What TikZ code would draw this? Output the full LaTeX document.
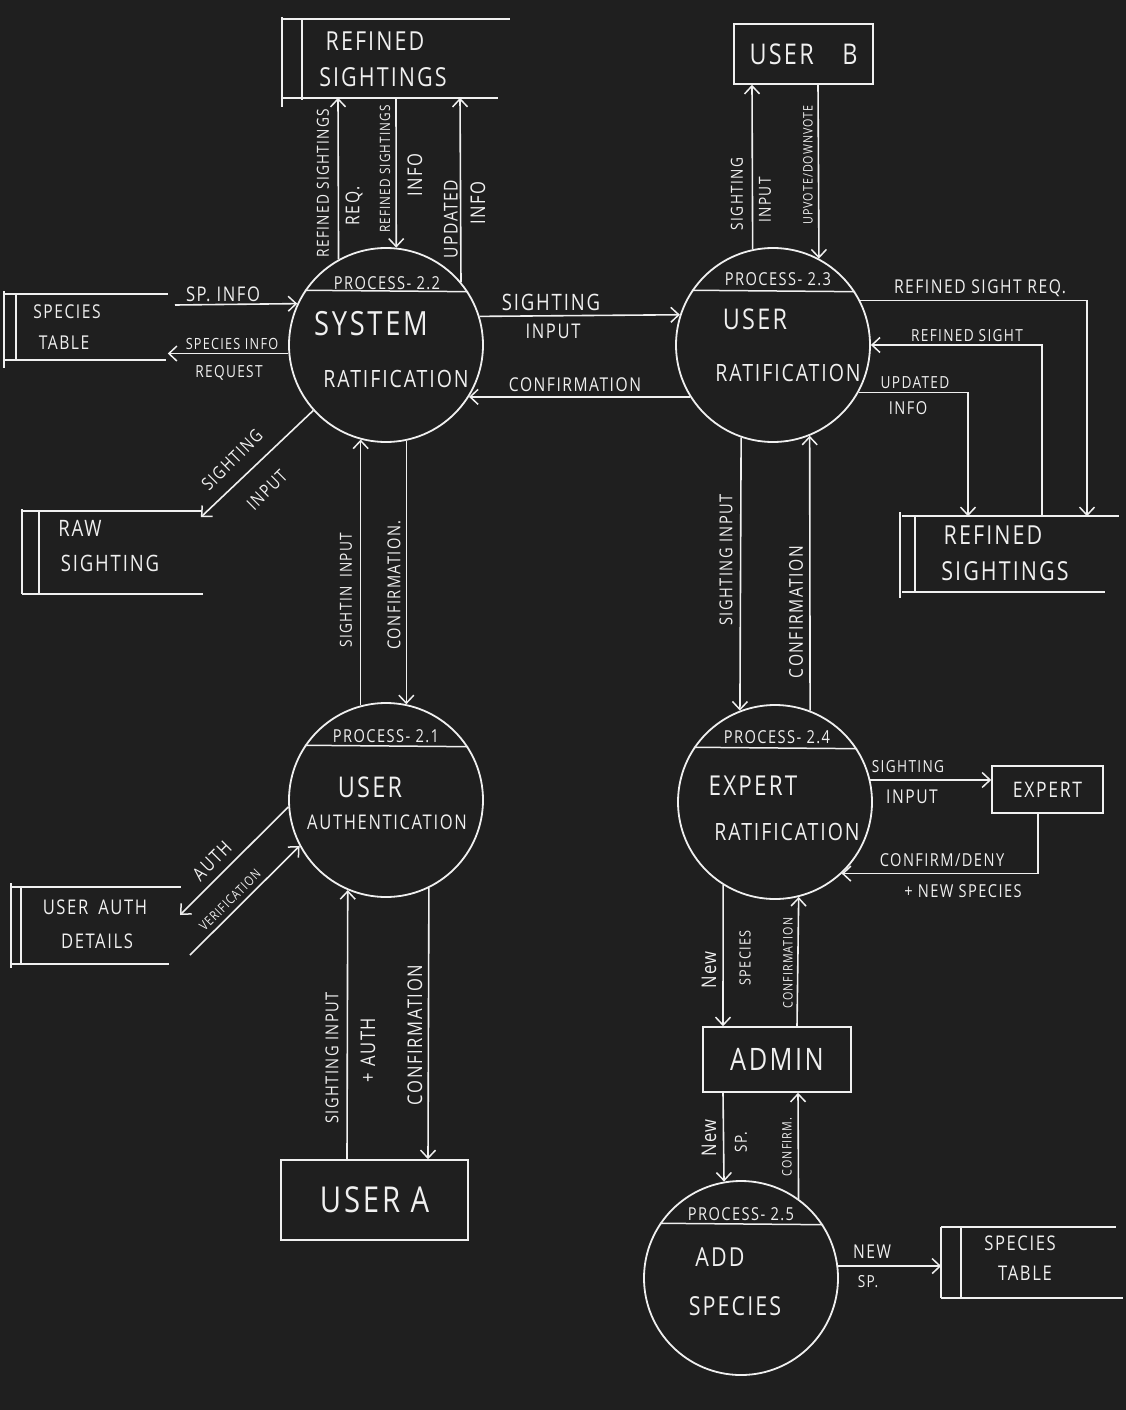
\documentclass[tikz,border=0pt]{standalone}
\usepackage{fontspec}
\setmainfont{Open Sans}
\newfontfamily\hand{Open Sans}[LetterSpace=8,FakeStretch=0.82]
\usetikzlibrary{arrows.meta}
\definecolor{bg}{HTML}{1F1F1F}
\definecolor{ink}{HTML}{F0F0F0}

\begin{document}
\begin{tikzpicture}[x=1pt,y=-1pt,line width=1.6pt,
  proc/.style={circle,draw=ink,minimum size=194pt,inner sep=0pt,line width=1.8pt},
  ent/.style={rectangle,draw=ink,inner sep=0pt,text=ink},
  store/.style={rectangle,inner sep=0pt},
  flow/.style={draw=ink,-{Straight Barb[length=8pt,width=15pt,line width=1.5pt]}},
  lab/.style={text=ink,inner sep=0pt,font=\hand\fontsize{\fpeval{#1*1.19}}{\fpeval{#1*1.2}}\selectfont},
  lab/.default=16,
  up/.style={rotate=90},
  diag/.style={rotate=45},
]
% canvas
\fill[bg] (0,0) rectangle (1126,1410);
\useasboundingbox (0,0) rectangle (1126,1410);

% ---------- processes ----------
\node[proc] (p22) at (386,345) {};
\node[proc] (p23) at (773,345) {};
\node[proc] (p21) at (386,800) {};
\node[proc] (p24) at (775,802) {};
\node[proc] (p25) at (741,1278) {};
\foreach \p in {p22,p23,p21,p24,p25}
  \draw[ink,line width=1.5pt] (\p.146.9) -- (\p.33.1);

\node[lab=15] (h22) at (387,283) {PROCESS- 2.2};
\node[lab=28] (t22a) at (371,324) {SYSTEM};
\node[lab=20] (t22b) at (396,379) {RATIFICATION};

\node[lab=15] (h23) at (778,279) {PROCESS- 2.3};
\node[lab=24] (t23a) at (755,319) {USER};
\node[lab=20] (t23b) at (788,373) {RATIFICATION};

\node[lab=15] (h21) at (386,736) {PROCESS- 2.1};
\node[lab=24] (t21a) at (370,787) {USER};
\node[lab=17] (t21b) at (387,822) {AUTHENTICATION};

\node[lab=15] (h24) at (777,737) {PROCESS- 2.4};
\node[lab=23] (t24a) at (753,786) {EXPERT};
\node[lab=20] (t24b) at (787,832) {RATIFICATION};

\node[lab=15] (h25) at (741,1214) {PROCESS- 2.5};
\node[lab=22] (t25a) at (720,1257) {ADD};
\node[lab=22] (t25b) at (735,1306) {SPECIES};

% ---------- external entities ----------
\node[ent,minimum width=139pt,minimum height=60pt,lab=24] (ub) at (803.5,54) {USER\quad B};
\node[ent,minimum width=111pt,minimum height=47pt,lab=18] (ex) at (1047.5,789.5) {EXPERT};
\node[ent,minimum width=148pt,minimum height=65pt,lab=26] (ad) at (777,1059.5) {ADMIN};
\node[ent,minimum width=187pt,minimum height=80pt,lab=30] (ua) at (374.5,1200) {USER A};

% ---------- data stores ----------
% refined sightings (top)
\node[store,minimum width=226pt,minimum height=77pt] (rs1) at (396,58.5) {};
\draw[ink] (rs1.north west) -- (rs1.north east);
\draw[ink] (rs1.south west) -- ([xshift=-12pt]rs1.south east);
\draw[ink] ([yshift=2pt]rs1.north west) -- ([yshift=-9pt]rs1.south west);
\draw[ink] ([xshift=20pt]rs1.north west) -- ([xshift=20pt,yshift=-2pt]rs1.south west);
\node[lab=22] at (375,41) {REFINED};
\node[lab=22] at (383,77) {SIGHTINGS};

% species table (left)
\node[store,minimum width=162pt,minimum height=64pt] (st1) at (86,327) {};
\draw[ink] (st1.north west) -- (st1.north east);
\draw[ink] (st1.south west) -- ([xshift=-2pt]st1.south east);
\draw[ink] ([yshift=3pt]st1.north west) -- ([yshift=-8pt]st1.south west);
\draw[ink] ([xshift=12pt]st1.north west) -- ([xshift=12pt]st1.south west);
\node[lab=16] at (67,312) {SPECIES};
\node[lab=16] at (64,343) {TABLE};

% raw sighting
\node[store,minimum width=177pt,minimum height=81pt] (raw) at (111.5,552.5) {};
\draw[ink] (raw.north west) -- (raw.north east);
\draw[ink] (raw.south west) -- ([xshift=2pt]raw.south east);
\draw[ink] ([yshift=2pt]raw.north west) -- (raw.south west);
\draw[ink] ([xshift=17pt]raw.north west) -- ([xshift=17pt]raw.south west);
\node[lab=19] at (80,528) {RAW};
\node[lab=19] at (110,563) {SIGHTING};

% refined sightings (right)
\node[store,minimum width=215pt,minimum height=74pt] (rs2) at (1010.5,554) {};
\draw[ink] (rs2.north west) -- (rs2.north east);
\draw[ink] (rs2.south west) -- ([xshift=-14pt]rs2.south east);
\draw[ink] ([xshift=-2pt,yshift=4pt]rs2.north west) -- ([xshift=-2pt,yshift=-6pt]rs2.south west);
\draw[ink] ([xshift=13pt]rs2.north west) -- ([xshift=13pt,yshift=-1pt]rs2.south west);
\node[lab=22] at (993,535) {REFINED};
\node[lab=22] at (1005,571) {SIGHTINGS};

% user auth details
\node[store,minimum width=167pt,minimum height=75pt] (uad) at (96.5,925.5) {};
\draw[ink] (uad.north west) -- (uad.north east);
\draw[ink] (uad.south west) -- ([xshift=-12pt]uad.south east);
\draw[ink] ([xshift=-1pt,yshift=4pt]uad.north west) -- ([xshift=-1pt,yshift=-4pt]uad.south west);
\draw[ink] ([xshift=9pt]uad.north west) -- ([xshift=9pt]uad.south west);
\node[lab=17] at (95,907) {USER\enspace AUTH};
\node[lab=17] at (97,941) {DETAILS};

% species table (right)
\node[store,minimum width=173pt,minimum height=69pt] (st2) at (1028.5,1262.5) {};
\draw[ink] (st2.north west) -- (st2.north east);
\draw[ink] (st2.south west) -- ([xshift=7pt]st2.south east);
\draw[ink] (st2.north west) -- (st2.south west);
\draw[ink] ([xshift=20pt]st2.north west) -- ([xshift=20pt]st2.south west);
\node[lab=17] at (1020,1243) {SPECIES};
\node[lab=17] at (1025,1273) {TABLE};

% ---------- free ends ----------
\coordinate (spA) at (175,305);
\coordinate (rawTip) at ([yshift=-6pt]raw.north east);
\coordinate (authTip) at (180,915);
\coordinate (verA) at (190,955);

% ---------- data flows ----------
% process 2.2 <-> refined sightings (top)
\draw[flow] (p22.119.7) -- (338,0 |- rs1.south);
\draw[flow] (396,0 |- rs1.south) -- (p22.84.1);
\draw[flow] (p22.40.3) -- (460,0 |- rs1.south);
\node[lab=14,up] at (323,183) {REFINED SIGHTINGS};
\node[lab=16,up] at (354,206) {REQ.};
\node[lab=12,up] at (385,169) {REFINED SIGHTINGS};
\node[lab=17,up] at (415,175) {INFO};
\node[lab=16,up] at (451,219) {UPDATED};
\node[lab=17,up] at (478,203) {INFO};

% process 2.2 <-> species table (left)
\draw[flow] (spA) -- (p22.155.6);
\draw[flow] (p22.185.3) -- (st1.east |- p22.185.3);
\node[lab=17] at (223,294) {SP. INFO};
\node[lab=13] at (232,344) {SPECIES INFO};
\node[lab=14] at (229,373) {REQUEST};

% process 2.2 -> raw sighting
\draw[flow] (p22.222) -- (rawTip);
\node[lab=15,diag] at (232,460) {SIGHTING};
\node[lab=15,diag] at (267,490) {INPUT};

% process 2.2 <-> process 2.3
\draw[flow] (p22.17.4) -- (p23.162.6);
\draw[flow] (p23.212.4) -- (p22.-32.4);
\node[lab=19] at (551,302) {SIGHTING};
\node[lab=17] at (553,331) {INPUT};
\node[lab=16] at (575,385) {CONFIRMATION};

% process 2.3 <-> user B
\draw[flow] (p23.102.5) -- (752,0 |- ub.south);
\draw[flow] (818,0 |- ub.south) -- (p23.62.4);
\node[lab=14,up] at (737,194) {SIGHTING};
\node[lab=14,up] at (765,200) {INPUT};
\node[lab=11,up] at (808,165) {UPVOTE/DOWNVOTE};

% process 2.3 <-> refined sightings (right)
\draw[flow] (p23.27.6) -| (1087,0 |- rs2.north);
\draw[flow] (1042,0 |- rs2.north) |- (p23.0);
\draw[flow] (p23.-29.7) -| (968,0 |- rs2.north);
\node[lab=16] at (980,288) {REFINED SIGHT REQ.};
\node[lab=14] at (967,336) {REFINED SIGHT};
\node[lab=14] at (915,383) {UPDATED};
\node[lab=15] at (908,408) {INFO};

% process 2.3 <-> process 2.4
\draw[flow] (p23.-109.9) -- (p24.111.2);
\draw[flow] (p24.69.5) -- (p23.-68.2);
\node[lab=15,up] at (726,560) {SIGHTING INPUT};
\node[lab=16,up] at (796,612) {CONFIRMATION};

% process 2.2 <-> process 2.1
\draw[flow] (p21.105.5) -- (p22.-105.5);
\draw[flow] (p22.-78.1) -- (p21.78.1);
\node[lab=14,up] at (346,590) {SIGHTIN\enspace INPUT};
\node[lab=15,up] at (394,585) {CONFIRMATION.};

% process 2.4 <-> expert
\draw[flow] (p24.13.1) -- (ex.west |- p24.13.1);
\draw[flow] (1038,0 |- ex.south) |- (p24.-47);
\node[lab=14] at (908,767) {SIGHTING};
\node[lab=16] at (912,797) {INPUT};
\node[lab=15] at (942,860) {CONFIRM/DENY};
\node[lab=15] at (963,891) {+ NEW SPECIES};

% process 2.1 <-> user auth details
\draw[flow] (p21.184) -- (authTip);
\draw[flow] (verA) -- (p21.208);
\node[lab=16,diag] at (212,861) {AUTH};
\node[lab=11,diag] at (230,900) {VERIFICATION};

% process 2.1 <-> user A
\draw[flow] (347,0 |- ua.north) -- (p21.-113.7);
\draw[flow] (p21.-64.3) -- (428,0 |- ua.north);
\node[lab=15,up] at (332,1058) {SIGHTING INPUT};
\node[lab=17,up] at (368,1050) {+ AUTH};
\node[lab=17,up] at (415,1035) {CONFIRMATION};

% process 2.4 <-> admin
\draw[flow] (p24.-122.4) -- (723,0 |- ad.north);
\draw[flow] (797,0 |- ad.north) -- (p24.-76.9);
\node[lab=17,up] at (709,970) {New};
\node[lab=13,up] at (745,958) {SPECIES};
\node[lab=11,up] at (788,963) {CONFIRMATION};

% admin <-> process 2.5
\draw[flow] (723,0 |- ad.south) -- (p25.100.7);
\draw[flow] (p25.54) -- (798,0 |- ad.south);
\node[lab=17,up] at (709,1138) {New};
\node[lab=14,up] at (741,1142) {SP.};
\node[lab=11,up] at (787,1147) {CONFIRM.};

% process 2.5 -> species table (right)
\draw[flow] (p25.7.1) -- (st2.west |- p25.7.1);
\node[lab=16] at (872,1252) {NEW};
\node[lab=14] at (868,1282) {SP.};
\end{tikzpicture}
\end{document}
